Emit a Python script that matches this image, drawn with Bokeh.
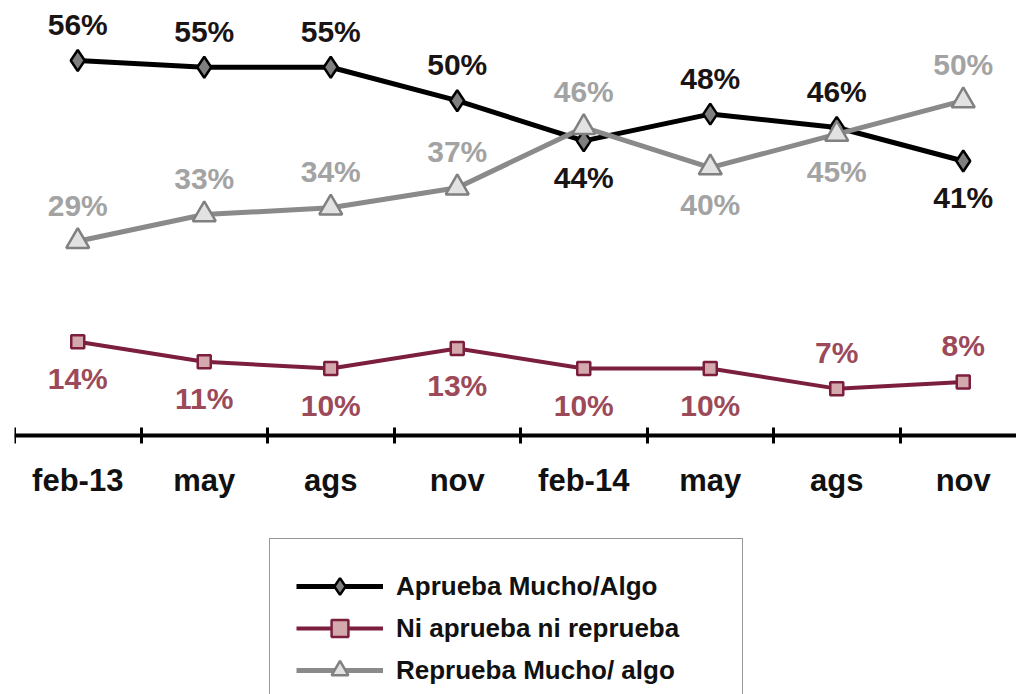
from bokeh.plotting import figure
from bokeh.models import (ColumnDataSource, Range1d, LinearAxis, FixedTicker,
                          Legend, LegendItem)
from bokeh.core.properties import value
from bokeh.embed import file_html
from bokeh.resources import INLINE

# ---- data ----
periods = ["feb-13", "may", "ags", "nov", "feb-14", "may", "ags", "nov"]
aprueba = [56, 55, 55, 50, 44, 48, 46, 41]
ni = [14, 11, 10, 13, 10, 10, 7, 8]
reprueba = [29, 33, 34, 37, 46, 40, 45, 50]
names = ["Aprueba Mucho/Algo", "Ni aprueba ni reprueba", "Reprueba Mucho/ algo"]

# label placement (style): +1 above the point, -1 below
side_aprueba = [1, 1, 1, 1, -1, 1, 1, -1]
side_ni = [-1, -1, -1, -1, -1, -1, 1, 1]
side_reprueba = [1, 1, 1, 1, 1, -1, -1, 1]

FONT = "Liberation Sans"
K = 6.696      # px per percentage point
W, H = 1016, 694
AXIS_Y = 435   # pixel row of the zero line
idx = list(range(len(periods)))

p = figure(width=W, height=H, output_backend="svg", toolbar_location=None,
           x_axis_type=None, y_axis_type=None,
           x_range=Range1d(-0.5, -0.5 + (W - 14) / 126.5),
           y_range=Range1d((AXIS_Y - H) / K, AXIS_Y / K),
           min_border_left=14, min_border_right=0, min_border_top=0, min_border_bottom=0)
p.outline_line_color = None
p.background_fill_color = "white"
p.border_fill_color = "white"

# x axis at zero with boundary ticks (minor) and centered labels (major)
ax = LinearAxis(fixed_location=0)
ax.ticker = FixedTicker(ticks=idx, minor_ticks=[i - 0.5 for i in idx])
ax.major_label_overrides = {i: lab for i, lab in enumerate(periods)}
ax.major_tick_in = 0
ax.major_tick_out = 0
ax.minor_tick_in = 8
ax.minor_tick_out = 8
ax.minor_tick_line_width = 3
ax.minor_tick_line_color = "black"
ax.axis_line_width = 4
ax.axis_line_color = "black"
ax.major_label_standoff = 19
ax.major_label_text_font = FONT
ax.major_label_text_font_style = "bold"
ax.major_label_text_font_size = "31px"
ax.major_label_text_color = "#111111"
p.add_layout(ax, "below")

series = [
    dict(vals=aprueba, side=side_aprueba, line="#000000", lw=5, marker="diamond",
         size=21, fill="#7f7f7f", mline="#000000", mlw=2.5, label="#1a1414"),
    dict(vals=ni, side=side_ni, line="#7b1f3d", lw=4, marker="square",
         size=13, fill="#d4a9ae", mline="#7b1f3d", mlw=2.5, label="#9c4a5a"),
    dict(vals=reprueba, side=side_reprueba, line="#8a8a8a", lw=5, marker="triangle",
         size=23, fill="#e2e2e2", mline="#808080", mlw=2.5, label="#a3a3a3"),
]

items = []
for name, s in zip(names, series):
    src = ColumnDataSource(dict(x=idx, y=s["vals"],
                                txt=[f"{v}%" for v in s["vals"]],
                                yoff=[(-36 if d > 0 else 37) for d in s["side"]]))
    ln = p.line("x", "y", source=src, line_color=s["line"], line_width=s["lw"])
    sc = p.scatter("x", "y", source=src, marker=s["marker"], size=s["size"],
                   fill_color=s["fill"], line_color=s["mline"], line_width=s["mlw"])
    p.text("x", "y", text="txt", source=src, y_offset="yoff",
           text_align="center", text_baseline="middle",
           text_font=value(FONT), text_font_style="bold", text_font_size="30px",
           text_color=s["label"])
    items.append(LegendItem(label=name, renderers=[ln, sc]))

PAD = 26
legend_h = 2 * PAD + 3 * 42
legend_top = 587 - 21 - PAD
legend = Legend(items=items, location=(269 - 14, H - (legend_top + legend_h)),
                glyph_width=87, glyph_height=42, label_height=42, spacing=0,
                padding=PAD, label_standoff=13, label_width=320,
                label_text_font=FONT, label_text_font_style="bold",
                label_text_font_size="26px", label_text_color="#111111",
                border_line_color="#333333", border_line_width=1,
                background_fill_color="white", background_fill_alpha=1)
p.add_layout(legend, "center")

open("out.html", "w").write(file_html(p, INLINE))
